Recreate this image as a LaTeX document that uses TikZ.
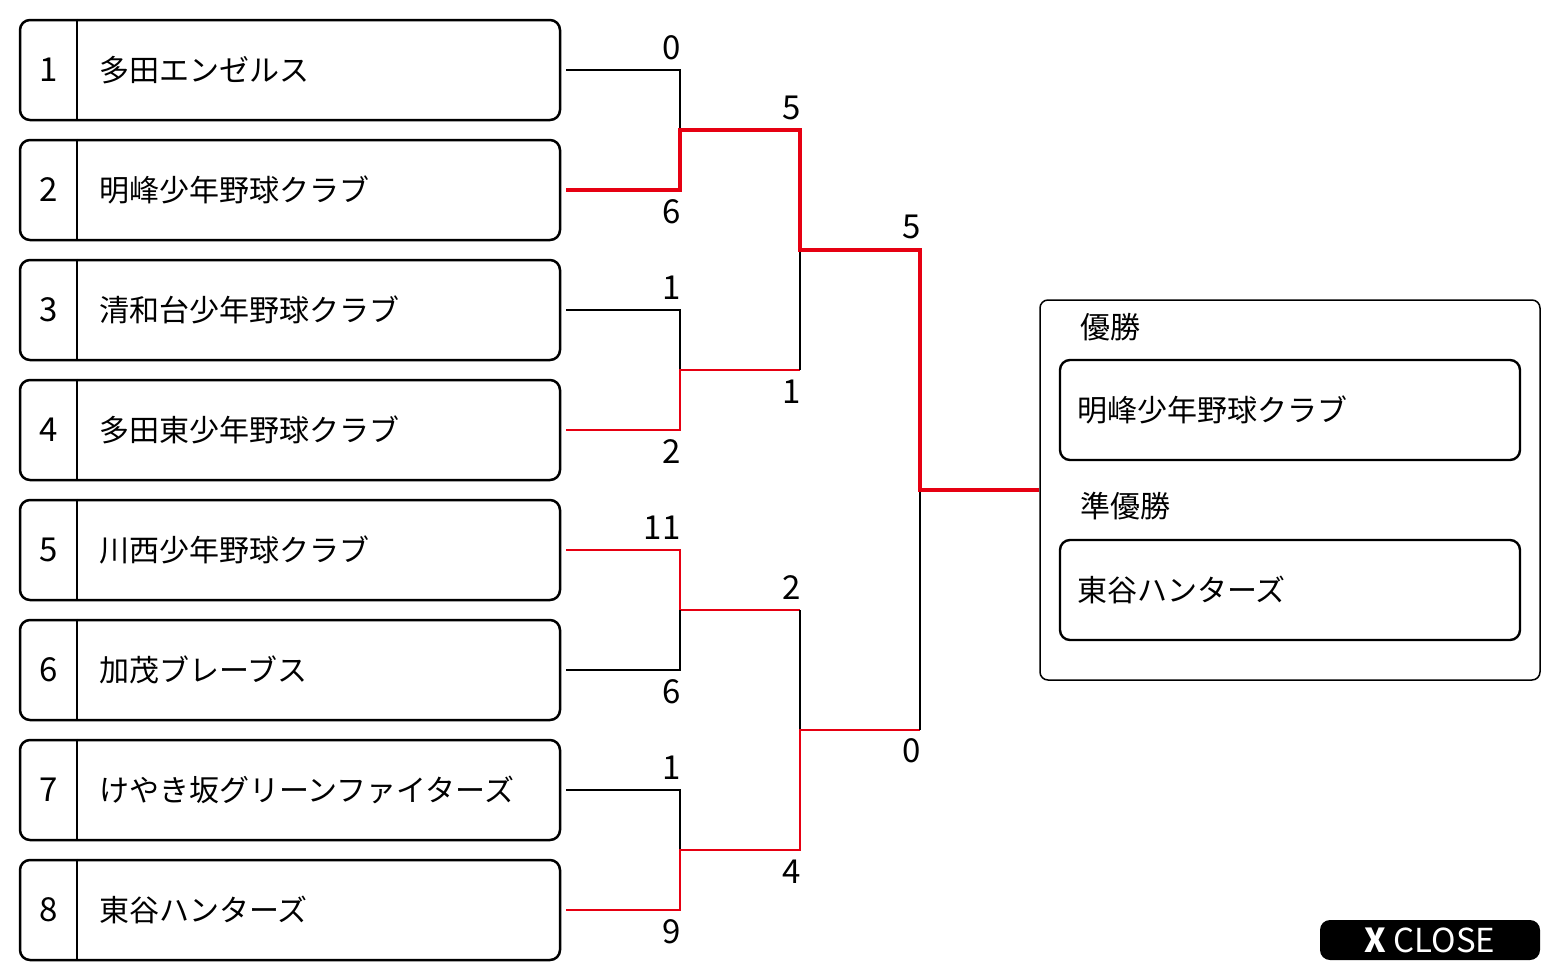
\documentclass[tikz,border=0pt]{standalone}
\usepackage{fontspec}
\setmainfont{Noto Sans CJK JP}
\usepackage{tikz}
\usetikzlibrary{positioning,calc}
\definecolor{ink}{HTML}{000000}
\definecolor{winred}{HTML}{E60012}
\tikzset{
  teambox/.style={draw=ink, rounded corners=5pt, line width=1.25pt,
                  minimum width=270pt, minimum height=50pt, inner sep=0pt},
  resbox/.style={draw=ink, rounded corners=5pt, line width=1.2pt,
                 minimum width=230pt, minimum height=50pt, inner sep=0pt},
  txt/.style={font=\fontsize{15}{18}\selectfont, anchor=west, inner sep=0pt},
  seed/.style={font=\fontsize{16.5}{18}\selectfont, inner sep=0pt},
  score/.style={font=\fontsize{16.5}{18}\selectfont, anchor=east, inner sep=0pt},
  lose/.style={draw=ink, line width=0.75pt},
  win/.style={draw=winred, line width=0.75pt},
  winbold/.style={draw=winred, line width=1.7pt},
}

\begin{document}
\begin{tikzpicture}[x=0.5pt, y=-0.5pt]
  \useasboundingbox (0,0) rectangle (1560,980);
  % teams
  \foreach \k/\team in {1/多田エンゼルス, 2/明峰少年野球クラブ, 3/清和台少年野球クラブ,
      4/多田東少年野球クラブ, 5/川西少年野球クラブ, 6/加茂ブレーブス,
      7/けやき坂グリーンファイターズ, 8/東谷ハンターズ} {
    \pgfmathsetmacro{\yc}{70+120*(\k-1)}
    \node[teambox] (t\k) at (290,\yc) {};
    \draw[line width=1.25pt] ([xshift=29pt]t\k.north west) -- ([xshift=29pt]t\k.south west);
    \node[seed] (n\k) at ([xshift=15pt]t\k.west) {\k};
    \node[txt] (tn\k) at ([xshift=40pt]t\k.west) {\team};
  }
  % bracket points
  \coordinate (m12) at (680,130);
  \coordinate (m34) at (680,370);
  \coordinate (m56) at (680,610);
  \coordinate (m78) at (680,850);
  \coordinate (s34) at (800,370);
  \coordinate (s56) at (800,610);
  \coordinate (m14) at (800,250);
  \coordinate (m58) at (800,730);
  \coordinate (s58) at (920,730);
  \coordinate (mF) at (920,490);
  % result panel
  \node[draw=ink, rounded corners=4pt, line width=0.75pt, minimum width=250pt,
        minimum height=190pt, inner sep=0pt] (res) at (1290,490) {};
  \node[txt] (lbl1) at (1080,327) {優勝};
  \node[resbox] (champ) at (1290,410) {};
  \node[txt] (champn) at (1077,410) {明峰少年野球クラブ};
  \node[txt] (lbl2) at (1080,506) {準優勝};
  \node[resbox] (runner) at (1290,590) {};
  \node[txt] (runnern) at (1077,590) {東谷ハンターズ};
  % lines
  \draw[lose] ([xshift=2.5pt]t1.east) -| (m12);
  \draw[lose] ([xshift=2.5pt]t3.east) -| (m34);
  \draw[win] ([xshift=2.5pt]t4.east) -| (m34) -- (s34);
  \draw[lose] (s34) -- (m14);
  \draw[win] ([xshift=2.5pt]t5.east) -| (m56) -- (s56);
  \draw[lose] ([xshift=2.5pt]t6.east) -| (m56);
  \draw[lose] ([xshift=2.5pt]t7.east) -| (m78);
  \draw[lose] (s56) -- (m58);
  \draw[win] ([xshift=2.5pt]t8.east) -| (m78) -| (m58) -- (s58);
  \draw[lose] (s58) -- (mF);
  \draw[winbold] ([xshift=2.5pt]t2.east) -| (m12) -| (m14) -| (mF) -- (res.west);
  % scores
  \foreach \x/\y/\s [count=\i] in {681/48/0, 681/212/6, 681/288/1, 681/452/2,
      681/528/11, 681/692/6, 681/768/1, 681/932/9, 801/108/5, 801/392/1,
      801/588/2, 801/872/4, 921/227/5, 921/751/0} {
    \node[score] (sc\i) at (\x,\y) {\s};
  }
  % close
  \node[fill=ink, rounded corners=5pt, minimum width=110pt, minimum height=20pt,
        text=white, font=\fontsize{16.5}{18}\selectfont, inner sep=0pt] (close) at (1430,940)
        {\textbf{X} CLOSE};
\end{tikzpicture}
\end{document}
